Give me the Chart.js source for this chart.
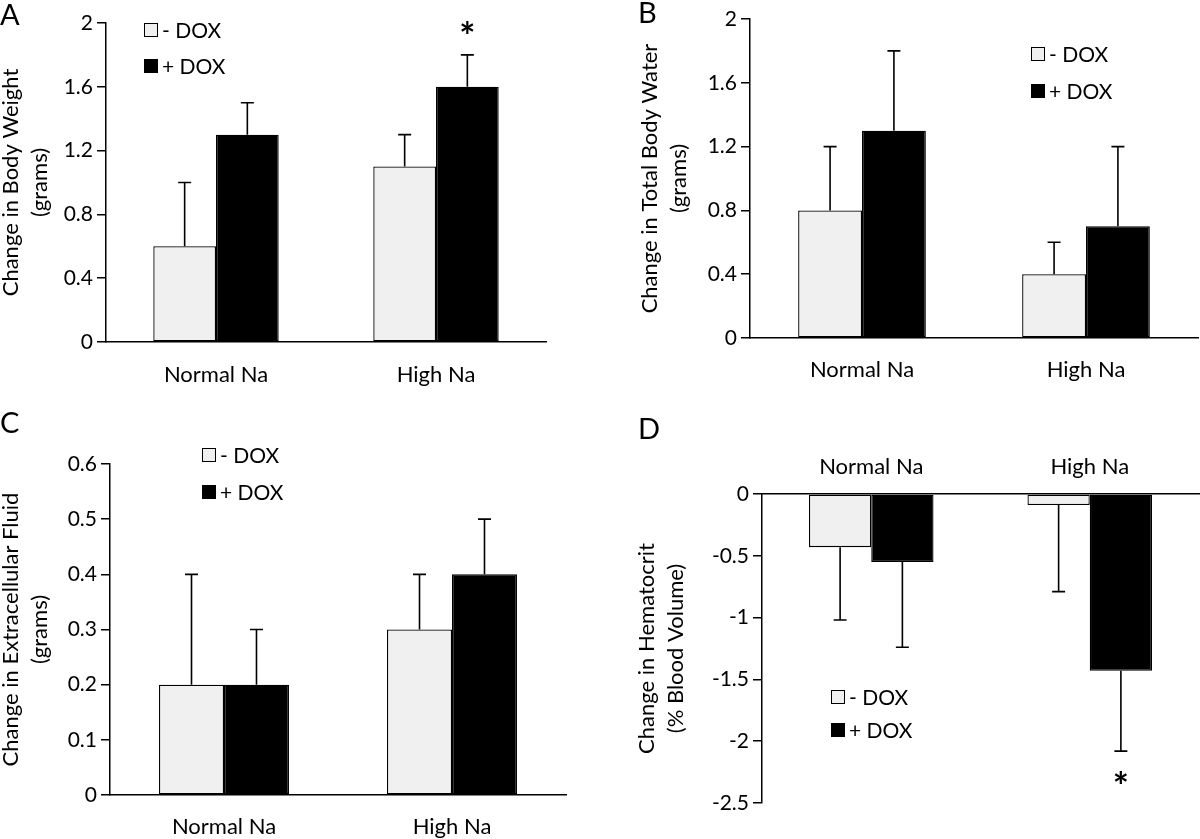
<!DOCTYPE html>
<html>
<head>
<meta charset="utf-8">
<script src="https://cdn.jsdelivr.net/npm/chart.js@4.4.0/dist/chart.umd.min.js"></script>
<style>
  body { margin: 0; background: #fff; }
  #wrap { position: relative; width: 1200px; height: 839px; overflow: hidden; font-family: Lato, sans-serif; }
  canvas { position: absolute; }
  .letter { position: absolute; font-size: 29px; line-height: 29px; color: #000; }
</style>
</head>
<body>
<div id="wrap">
  <canvas id="chartA" width="600" height="420" style="left:0;top:0"></canvas>
  <canvas id="chartB" width="600" height="420" style="left:600px;top:0"></canvas>
  <canvas id="chartC" width="600" height="419" style="left:0;top:420px"></canvas>
  <canvas id="chartD" width="600" height="419" style="left:600px;top:420px"></canvas>
  <div class="letter" style="left:0;top:-1px">A</div>
  <div class="letter" style="left:638px;top:-3px">B</div>
  <div class="letter" style="left:0;top:407px">C</div>
  <div class="letter" style="left:638px;top:413px">D</div>
</div>
<script>
// data
const categories = ['Normal Na', 'High Na'];
const seriesNames = ['- DOX', '+ DOX'];

// A: body weight (grams)
const weightMinus = [0.6, 1.1];
const weightPlus = [1.3, 1.6];
const weightMinusErr = [0.4, 0.2];
const weightPlusErr = [0.2, 0.2];

// B: total body water (grams)
const waterMinus = [0.8, 0.4];
const waterPlus = [1.3, 0.7];
const waterMinusErr = [0.4, 0.2];
const waterPlusErr = [0.5, 0.5];

// C: extracellular fluid (grams)
const ecfMinus = [0.2, 0.3];
const ecfPlus = [0.2, 0.4];
const ecfMinusErr = [0.2, 0.1];
const ecfPlusErr = [0.1, 0.1];

// D: hematocrit (% blood volume)
const hctMinus = [-0.43, -0.09];
const hctPlus = [-0.55, -1.43];
const hctMinusErr = [0.59, 0.70];
const hctPlusErr = [0.69, 0.65];

const FONT = 'Lato, sans-serif';

// one-sided error bars, drawn away from zero
const errorBars = {
  id: 'errorBars',
  afterDatasetsDraw(chart) {
    const ctx = chart.ctx;
    const y = chart.scales.y;
    ctx.save();
    ctx.strokeStyle = '#000';
    ctx.lineWidth = 1.6;
    chart.data.datasets.forEach((ds, i) => {
      chart.getDatasetMeta(i).data.forEach((bar, j) => {
        const v = ds.data[j];
        const e = ds.errors[j];
        const yStart = y.getPixelForValue(v);
        const yEnd = y.getPixelForValue(v >= 0 ? v + e : v - e);
        ctx.beginPath();
        ctx.moveTo(bar.x, yStart);
        ctx.lineTo(bar.x, yEnd);
        ctx.moveTo(bar.x - 6.5, yEnd);
        ctx.lineTo(bar.x + 6.5, yEnd);
        ctx.stroke();
      });
    });
    ctx.restore();
  }
};

// legend boxes and significance stars
const extras = {
  id: 'extras',
  afterDraw(chart, args, opts) {
    const ctx = chart.ctx;
    ctx.save();
    const lg = opts.legend;
    chart.data.datasets.forEach((ds, i) => {
      const cy = lg.rows[i];
      ctx.fillStyle = ds.backgroundColor;
      ctx.fillRect(lg.x, cy - 7, 14, 14);
      ctx.strokeStyle = '#000';
      ctx.lineWidth = 1;
      ctx.strokeRect(lg.x + 0.5, cy - 6.5, 13, 13);
      ctx.fillStyle = '#000';
      ctx.font = '21px ' + FONT;
      ctx.textAlign = 'left';
      ctx.textBaseline = 'middle';
      ctx.fillText(ds.label, lg.x + 18, cy + 1);
    });
    if (opts.star) {
      const bar = chart.getDatasetMeta(opts.star.dataset).data[opts.star.index];
      const cy = chart.scales.y.getPixelForValue(opts.star.value);
      ctx.font = 'bold 38px ' + FONT;
      ctx.textAlign = 'center';
      ctx.textBaseline = 'alphabetic';
      ctx.fillText('*', bar.x, cy + 22);
    }
    ctx.restore();
  }
};

function fmt(v) {
  return String(Number(v.toFixed(2)));
}

function makeChart(id, cfg) {
  return new Chart(document.getElementById(id), {
    type: 'bar',
    data: {
      labels: categories,
      datasets: [
        { label: seriesNames[0], data: cfg.minus, errors: cfg.minusErr, backgroundColor: '#f0f0f0', borderColor: '#000', borderWidth: 1.3 },
        { label: seriesNames[1], data: cfg.plus, errors: cfg.plusErr, backgroundColor: '#000', borderColor: '#000', borderWidth: 1.3 }
      ]
    },
    options: {
      responsive: false,
      animation: false,
      layout: { padding: cfg.pad },
      datasets: { bar: { barPercentage: 1, categoryPercentage: 0.57, borderSkipped: false } },
      plugins: {
        legend: { display: false },
        tooltip: { enabled: false },
        extras: { legend: cfg.legend, star: cfg.star }
      },
      scales: {
        x: {
          position: cfg.xPos,
          grid: { display: true, drawOnChartArea: false, drawTicks: false },
          border: { color: '#000', width: 1.5 },
          ticks: { color: '#000', font: { family: FONT, size: 22 }, padding: cfg.xPadding },
          afterFit: s => { s.height = cfg.xH; }
        },
        y: {
          min: cfg.min, max: cfg.max,
          ticks: { stepSize: cfg.step, color: '#000', font: { family: FONT, size: 21 }, padding: 4, callback: fmt },
          grid: { drawOnChartArea: false, tickLength: 9, color: '#000', lineWidth: 1.5 },
          border: { color: '#000', width: 1.5 },
          title: {
            display: true, text: cfg.title, color: '#000',
            font: { family: FONT, size: 22, lineHeight: 1.32 },
            padding: { top: cfg.titlePad, bottom: 0 }
          },
          afterFit: s => { s.width = cfg.yW; }
        }
      }
    },
    plugins: [errorBars, extras]
  });
}

makeChart('chartA', {
  minus: weightMinus, plus: weightPlus, minusErr: weightMinusErr, plusErr: weightPlusErr,
  min: 0, max: 2, step: 0.4,
  title: ['Change in Body Weight', '(grams)'], titlePad: -4,
  pad: { left: 0, right: 54, top: 23, bottom: 0 }, yW: 106,
  xPos: 'bottom', xH: 78, xPadding: 20,
  legend: { x: 144, rows: [30, 66] },
  star: { dataset: 1, index: 1, value: 1.97 }
});

makeChart('chartB', {
  minus: waterMinus, plus: waterPlus, minusErr: waterMinusErr, plusErr: waterPlusErr,
  min: 0, max: 2, step: 0.4,
  title: ['Change in Total Body Water', '(grams)'], titlePad: 35,
  pad: { left: 0, right: 2, top: 19, bottom: 0 }, yW: 150,
  xPos: 'bottom', xH: 82, xPadding: 19,
  legend: { x: 431, rows: [54, 91] }
});

makeChart('chartC', {
  minus: ecfMinus, plus: ecfPlus, minusErr: ecfMinusErr, plusErr: ecfPlusErr,
  min: 0, max: 0.6, step: 0.1,
  title: ['Change in Extracellular Fluid', '(grams)'], titlePad: -4,
  pad: { left: 0, right: 34, top: 44, bottom: 0 }, yW: 110,
  xPos: 'bottom', xH: 44, xPadding: 19,
  legend: { x: 202, rows: [35, 72] }
});

makeChart('chartD', {
  minus: hctMinus, plus: hctPlus, minusErr: hctMinusErr, plusErr: hctPlusErr,
  min: -2.5, max: 0, step: 0.5,
  title: ['Change in Hematocrit', '(% Blood Volume)'], titlePad: 32,
  pad: { left: 0, right: 1, top: 0, bottom: 36 }, yW: 162,
  xPos: 'top', xH: 74, xPadding: 14,
  legend: { x: 231, rows: [277, 310] },
  star: { dataset: 1, index: 1, value: -2.3 }
});
</script>
</body>
</html>
